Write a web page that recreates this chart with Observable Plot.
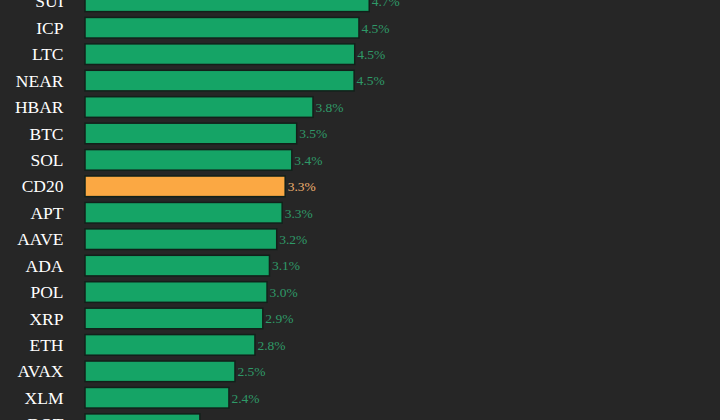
<!DOCTYPE html>
<html>
<head>
<meta charset="utf-8">
<script src="https://cdn.jsdelivr.net/npm/d3@7"></script>
<script src="https://cdn.jsdelivr.net/npm/@observablehq/plot@0.6"></script>
<style>
  html, body { margin: 0; padding: 0; background: #262626; }
  #chart { width: 720px; height: 420px; overflow: hidden; }
</style>
</head>
<body>
<div id="chart"></div>
<script>
const symbols = ["SUI","ICP","LTC","NEAR","HBAR","BTC","SOL","CD20","APT","AAVE","ADA","POL","XRP","ETH","AVAX","XLM","DOT"];
const values  = [4.7, 4.53, 4.46, 4.45, 3.77, 3.5, 3.42, 3.31, 3.26, 3.17, 3.05, 3.01, 2.94, 2.81, 2.48, 2.38, 1.9];
const labels  = ["4.7%","4.5%","4.5%","4.5%","3.8%","3.5%","3.4%","3.3%","3.3%","3.2%","3.1%","3.0%","2.9%","2.8%","2.5%","2.4%","1.9%"];
const highlight = "CD20";

const data = symbols.map((s, i) => ({symbol: s, value: values[i], label: labels[i], hi: s === highlight}));

const chart = Plot.plot({
  width: 720,
  height: 420,
  marginLeft: 85,
  marginRight: 0,
  marginTop: 0,
  marginBottom: 0,
  style: {background: "#262626", fontFamily: "'Liberation Serif', serif", overflow: "hidden"},
  x: {domain: [0, 10.5], axis: null},
  y: {domain: symbols, range: [-9, 434.5], paddingInner: 0.22, paddingOuter: 0, round: false, label: null},
  marks: [
    Plot.barX(data, {
      x: "value", y: "symbol",
      fill: d => d.hi ? "#fba843" : "#15a466",
      stroke: "#12201a", strokeWidth: 1.5
    }),
    Plot.text(data, {
      x: "value", y: "symbol", text: "label",
      textAnchor: "start", dx: 2, dy: 0,
      fill: d => d.hi ? "#f0b070" : "#2f9a68",
      fontSize: 13.5
    }),
    Plot.axisY({
      tickSize: 0, tickPadding: 22, fontSize: 17.5, color: "#ffffff", label: null
    })
  ]
});
document.getElementById("chart").appendChild(chart);
</script>
</body>
</html>
